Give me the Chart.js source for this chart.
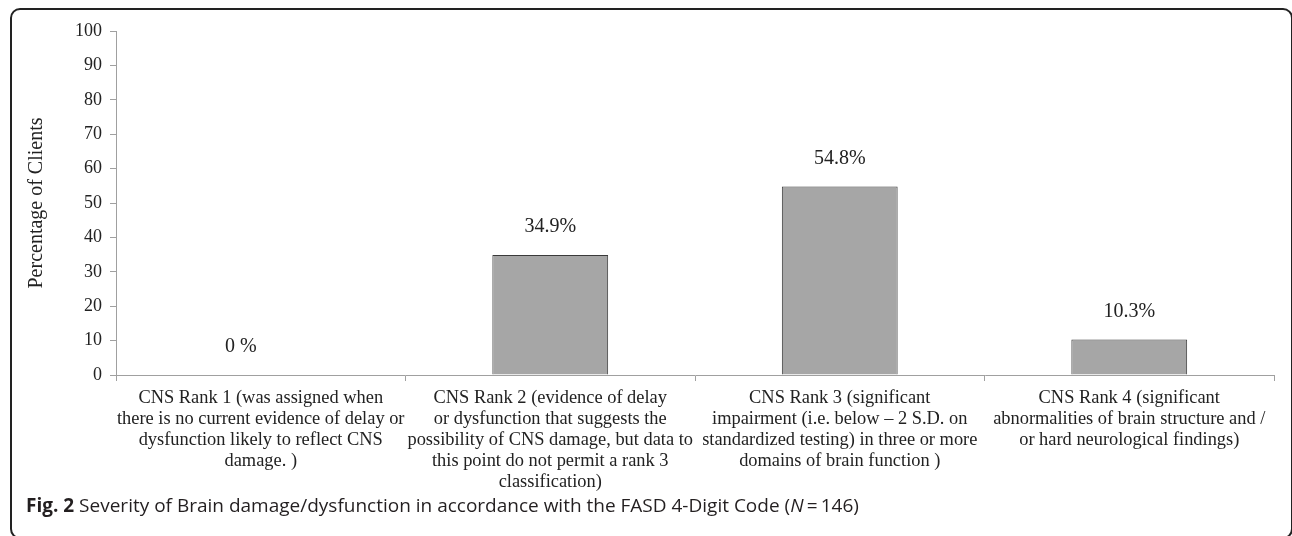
<!DOCTYPE html>
<html>
<head>
<meta charset="utf-8">
<script src="https://cdn.jsdelivr.net/npm/chart.js@4.4.1/dist/chart.umd.min.js"></script>
<style>
  html, body { margin: 0; padding: 0; background: #fff; overflow: hidden; }
  #wrap { position: relative; width: 1292px; height: 536px; overflow: hidden; }
  #frame {
    position: absolute; left: 10px; top: 8px; width: 1283px; height: 531px;
    border: 2px solid #222; border-radius: 10px; box-sizing: border-box;
  }
  #box { position: absolute; left: 0; top: 0; width: 1292px; height: 536px; }
  #caption {
    position: absolute; left: 26px; top: 492px;
    font-family: "Open Sans", sans-serif; font-size: 19px; color: #231f20;
    white-space: nowrap;
  }
  #caption b { font-weight: 700; }
</style>
</head>
<body>
<div id="wrap">
  <div id="frame"></div>
  <div id="box"><canvas id="chart"></canvas></div>
  <div id="caption"><b>Fig. 2</b> Severity of Brain damage/dysfunction in accordance with the FASD 4-Digit Code (<i>N</i>&#8201;=&#8201;146)</div>
</div>
<script>
// カテゴリ（複数行ラベル）
const categories = [
  ['CNS Rank 1 (was assigned when', 'there is no current evidence of delay or', 'dysfunction likely to reflect CNS', 'damage. )'],
  ['CNS Rank 2 (evidence of delay', 'or dysfunction that suggests the', 'possibility of CNS damage, but data to', 'this point do not permit a rank 3', 'classification)'],
  ['CNS Rank 3 (significant', 'impairment (i.e. below \u2013 2 S.D. on', 'standardized testing) in three or more', 'domains of brain function )'],
  ['CNS Rank 4 (significant', 'abnormalities of brain structure and /', 'or hard neurological findings)']
];
// 割合（%）
const percentValues = [0, 34.9, 54.8, 10.3];
const valueLabels = ['0 %', '34.9%', '54.8%', '10.3%'];
const yTicks = [0, 10, 20, 30, 40, 50, 60, 70, 80, 90, 100];

const serif = '"Liberation Serif", "Times New Roman", serif';

// 棒の上に値を表示
const valueLabelPlugin = {
  id: 'valueLabels',
  afterDatasetsDraw(chart) {
    const ctx = chart.ctx;
    const meta = chart.getDatasetMeta(0);
    ctx.save();
    ctx.font = '20px ' + serif;
    ctx.fillStyle = '#222';
    ctx.textAlign = 'center';
    ctx.textBaseline = 'middle';
    meta.data.forEach((bar, i) => {
      // 0%のラベルは元の図で少し左寄り
      const dx = percentValues[i] === 0 ? -20 : 0;
      ctx.fillText(valueLabels[i], bar.x + dx, bar.y - 28);
    });
    ctx.restore();
  }
};

const ctx = document.getElementById('chart').getContext('2d');
const chart = new Chart(ctx, {
  type: 'bar',
  data: {
    labels: categories,
    datasets: [{
      data: percentValues,
      backgroundColor: '#a6a6a6',
      borderColor: '#3a3a3a',
      borderWidth: 1,
      categoryPercentage: 1.0,
      barPercentage: 0.4
    }]
  },
  options: {
    responsive: true,
    maintainAspectRatio: false,
    animation: false,
    layout: { padding: { left: 12, right: 18, top: 31, bottom: 0 } },
    plugins: {
      legend: { display: false },
      tooltip: { enabled: false }
    },
    scales: {
      x: {
        offset: true,
        grid: { offset: true, drawOnChartArea: false, color: '#a0a0a0', tickLength: 6 },
        border: { color: '#a0a0a0', width: 1 },
        ticks: {
          color: '#222', maxRotation: 0, autoSkip: false, padding: 7,
          font: { family: serif, size: 18.4, lineHeight: 1.14 }
        },
        afterFit(scale) { scale.height = 161; }
      },
      y: {
        min: 0, max: 100,
        afterBuildTicks(scale) { scale.ticks = yTicks.map(v => ({ value: v })); },
        grid: { drawOnChartArea: false, color: '#a0a0a0', tickLength: 6 },
        border: { color: '#a0a0a0', width: 1 },
        ticks: {
          color: '#222', padding: 8,
          font: { family: serif, size: 18 }
        },
        title: {
          display: true, text: 'Percentage of Clients', color: '#222',
          font: { family: serif, size: 20 }, padding: { top: 13, bottom: 0 }
        },
        afterFit(scale) { scale.width = 104; }
      }
    }
  },
  plugins: [valueLabelPlugin]
});
</script>
</body>
</html>
